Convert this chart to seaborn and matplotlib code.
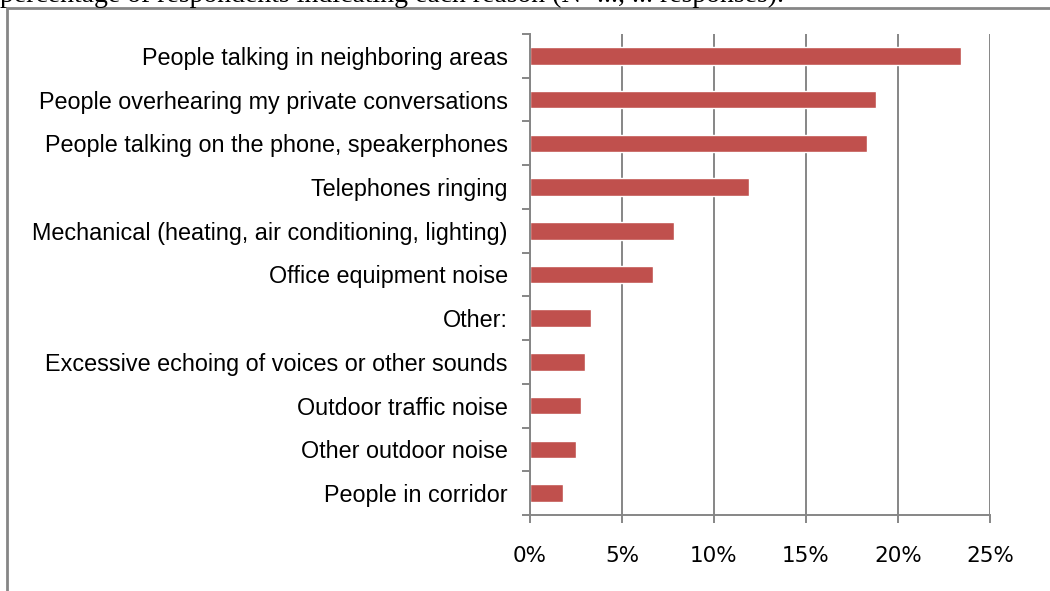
import matplotlib.pyplot as plt
import matplotlib.patches as mpatches
import numpy as np
import pandas as pd
import seaborn as sns
from matplotlib.ticker import PercentFormatter

reasons = [
    "People talking in neighboring areas",
    "People overhearing my private conversations",
    "People talking on the phone, speakerphones",
    "Telephones ringing",
    "Mechanical (heating, air conditioning, lighting)",
    "Office equipment noise",
    "Other:",
    "Excessive echoing of voices or other sounds",
    "Outdoor traffic noise",
    "Other outdoor noise",
    "People in corridor",
]
share = [23.4, 18.8, 18.3, 11.9, 7.8, 6.7, 3.3, 3.0, 2.75, 2.5, 1.8]
caption = "percentage of respondents indicating each reason (N=..., ... responses)."

df = pd.DataFrame({"reason": reasons, "share": share})

sns.set_style("white")
plt.rcParams["font.family"] = ["Liberation Sans", "DejaVu Sans"]

fig = plt.figure(figsize=(10.5, 5.91), dpi=100)
ax = fig.add_axes([530 / 1050, 1 - 515 / 591, 460 / 1050, 481 / 591])

sns.barplot(data=df, x="share", y="reason", color="#C0504D", width=0.4,
            saturation=1, ax=ax)

ax.set_xlim(0, 25)
ax.set_ylim(len(reasons) - 0.5, -0.5)
ax.set_xticks(np.arange(0, 26, 5))
ax.xaxis.set_major_formatter(PercentFormatter(decimals=0))
ax.grid(axis="x", color="#868686", linewidth=1.4)
ax.set_axisbelow(True)
ax.set_xlabel("")
ax.set_ylabel("")

for s in ["top", "right"]:
    ax.spines[s].set_visible(False)
for s in ["left", "bottom"]:
    ax.spines[s].set_color("#868686")
    ax.spines[s].set_linewidth(1.4)

# category boundary ticks like Excel
ax.set_yticks(np.arange(-0.5, len(reasons), 1), minor=True)
ax.tick_params(axis="y", which="major", left=False, length=0, pad=16,
               labelsize=16.8, labelcolor="black")
ax.tick_params(axis="y", which="minor", left=True, length=6,
               color="#868686", width=1.4)
ax.tick_params(axis="x", bottom=True, length=6, color="#868686", width=1.4,
               pad=16, labelsize=15.5, labelcolor="black")
for lab in ax.get_xticklabels():
    lab.set_family("DejaVu Sans")

# outer frame running off the page
fig.add_artist(mpatches.Rectangle((7 / 1050, -0.1), 1.2, 1 - 8 / 591 + 0.1,
                                  transform=fig.transFigure, fill=False,
                                  edgecolor="#868686", linewidth=2))

fig.text(0.0, 1 - 2 / 591, caption, family="Liberation Serif", fontsize=20,
         va="baseline", ha="left", color="black")

fig.savefig("out.png", dpi=100)
